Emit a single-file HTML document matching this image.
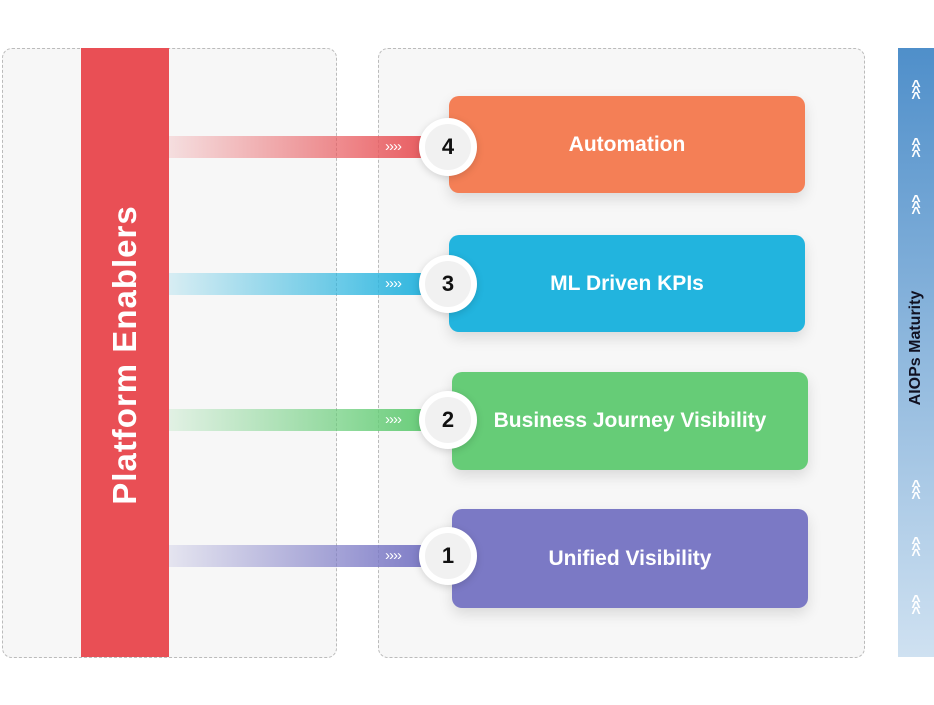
<!DOCTYPE html>
<html><head><style>
body{margin:0;width:934px;height:705px;background:#fff;position:relative;overflow:hidden;font-family:"Liberation Sans",sans-serif}
.a{position:absolute}
.dbox{position:absolute;border:1.5px dashed #bbb;border-radius:10px;background:#f7f7f7;box-sizing:border-box}
.bar{position:absolute;height:22px;left:169px;width:265px}
.chev{position:absolute;left:385px;height:22px;line-height:21px;color:#fff;font-size:15px;letter-spacing:-1px}
.box{position:absolute;border-radius:10px;color:#fff;font-weight:bold;font-size:21px;display:flex;align-items:center;justify-content:center;box-shadow:0 6px 14px rgba(0,0,0,.12)}
.circ{position:absolute;width:58px;height:58px;border-radius:50%;background:#fff;box-shadow:0 2px 8px rgba(0,0,0,.15)}
.circ div{position:absolute;left:6px;top:6px;width:46px;height:46px;border-radius:50%;background:#f1f1f1;font-weight:bold;font-size:22px;color:#111;text-align:center;line-height:46px}
.up{position:absolute;left:898px;width:36px;text-align:center;color:#fff;font-size:16px;line-height:6px;font-weight:bold}
</style></head><body>
<div class="dbox" style="left:2px;top:48px;width:335px;height:610px"></div>
<div class="dbox" style="left:378px;top:48px;width:487px;height:610px"></div>
<div class="a" style="left:81px;top:48px;width:88px;height:609px;background:#e94f55"></div>
<div class="a" style="left:125px;top:355px;transform:translate(-50%,-50%) rotate(-90deg);color:#fff;font-weight:bold;font-size:33px;white-space:nowrap;letter-spacing:1px">Platform Enablers</div>
<div class="a" style="left:898px;top:48px;width:36px;height:609px;background:linear-gradient(#4f8fca,#cfe1f1)"></div>
<div class="a" style="left:916px;top:348px;transform:translate(-50%,-50%) rotate(-90deg);color:#112;font-weight:bold;font-size:16px;white-space:nowrap">AIOPs Maturity</div>
<div class="up" style="top:84px">^<br>^<br>^</div>
<div class="up" style="top:142px">^<br>^<br>^</div>
<div class="up" style="top:199px">^<br>^<br>^</div>
<div class="up" style="top:484px">^<br>^<br>^</div>
<div class="up" style="top:541px">^<br>^<br>^</div>
<div class="up" style="top:599px">^<br>^<br>^</div>

<div class="bar" style="top:136px;background:linear-gradient(90deg,rgba(233,79,85,.15),#e8595d)"></div>
<div class="bar" style="top:273px;background:linear-gradient(90deg,rgba(34,180,222,.15),#2ab4de)"></div>
<div class="bar" style="top:409px;background:linear-gradient(90deg,rgba(102,204,119,.15),#66cc77)"></div>
<div class="bar" style="top:545px;background:linear-gradient(90deg,rgba(123,121,197,.15),#7b79c5)"></div>
<div class="chev" style="top:136px">››››</div>
<div class="chev" style="top:273px">››››</div>
<div class="chev" style="top:409px">››››</div>
<div class="chev" style="top:545px">››››</div>

<div class="box" style="left:449px;top:96px;width:356px;height:97px;background:#f47f56">Automation</div>
<div class="box" style="left:449px;top:235px;width:356px;height:97px;background:#22b4de">ML Driven KPIs</div>
<div class="box" style="left:452px;top:372px;width:356px;height:98px;background:#66cc77">Business Journey Visibility</div>
<div class="box" style="left:452px;top:509px;width:356px;height:99px;background:#7b79c5">Unified Visibility</div>

<div class="circ" style="left:419px;top:118px"><div>4</div></div>
<div class="circ" style="left:419px;top:255px"><div>3</div></div>
<div class="circ" style="left:419px;top:391px"><div>2</div></div>
<div class="circ" style="left:419px;top:527px"><div>1</div></div>
</body></html>
